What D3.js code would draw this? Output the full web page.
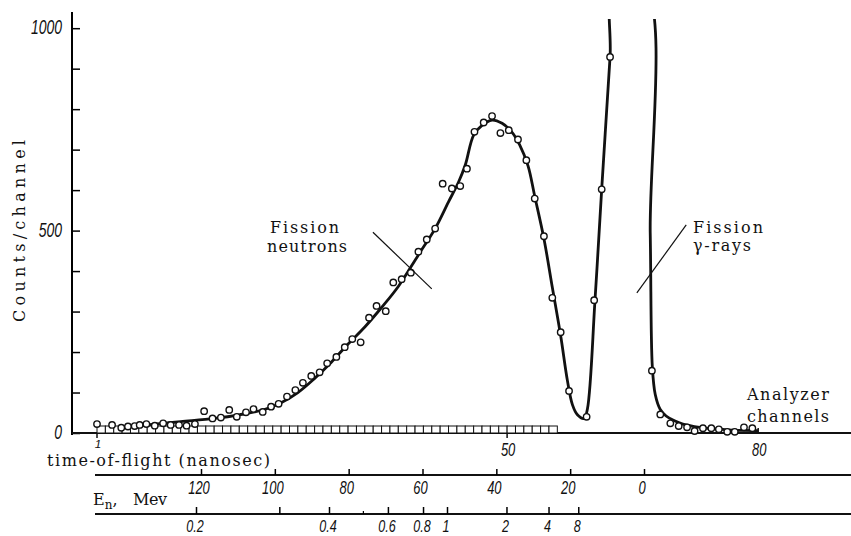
<!DOCTYPE html>
<html>
<head>
<meta charset="utf-8">
<script src="https://cdn.jsdelivr.net/npm/d3@7"></script>
<style>
  body { margin: 0; background: #fff; }
  svg { display: block; }
  .lbl { font-family: "DejaVu Serif", "Liberation Serif", serif; font-size: 16px; fill: #111; }
  .num { font-family: "Liberation Sans", Arial, sans-serif; font-style: italic; fill: #111; }
</style>
</head>
<body>
<svg width="851" height="536"></svg>
<script>
// measured points: analyzer channel vs counts/channel
var pointChannels = [1.0, 2.8, 3.9, 4.7, 5.5, 6.1, 6.9, 7.9, 8.9, 9.8,
  10.8, 11.7, 12.7, 13.8, 14.8, 15.8, 16.8, 17.7, 18.8, 19.7,
  20.8, 21.8, 22.7, 23.7, 24.7, 25.6, 26.6, 27.6, 28.5, 29.6,
  30.6, 31.5, 32.5, 33.5, 34.4, 35.5, 36.4, 37.4, 38.5, 39.4,
  40.4, 41.4, 42.3, 43.4, 44.4, 45.2, 46.1, 47.2, 48.2, 49.2,
  50.2, 51.3, 52.3, 53.3, 54.4, 55.4, 56.4, 57.4, 59.5, 60.4,
  61.3, 62.3, 67.3, 68.3, 69.5, 70.5, 71.5, 72.4, 73.4, 74.4,
  75.3, 76.3, 77.2, 78.3, 79.3];
var pointCounts = [22, 20, 13, 16, 17, 20, 22, 18, 24, 20,
  20, 18, 22, 54, 36, 38, 57, 40, 51, 59,
  52, 65, 72, 90, 106, 124, 141, 150, 172, 188,
  212, 232, 224, 285, 314, 301, 372, 380, 396, 448,
  478, 505, 616, 604, 610, 653, 744, 767, 783, 741,
  748, 725, 674, 579, 486, 334, 249, 104, 40, 328,
  602, 929, 154, 46, 24, 17, 14, 5, 12, 12,
  9, 3, 3, 14, 12];

// hand drawn fit through the points
var fitChannels = [3.7, 7, 11, 15, 18, 21, 23, 25, 27, 29, 31, 33, 35, 37, 39.4, 41.4, 43, 44.2,
  45, 46, 47, 48.2, 49.4, 50.5, 51.5, 52.5, 53.3, 54.4, 55.4, 56.4, 57.2, 57.8, 58.4, 59.2, 59.6,
  60.5, 61.3, 62.3, 62.8, 66.5, 67.1, 67.35, 67.7, 68.3, 69, 70, 71, 73, 75, 77, 80];
var fitCounts = [14, 20, 28, 36, 45, 58, 75, 100, 135, 175, 220, 262, 310, 362, 440, 505, 571, 620,
  662, 736, 760, 773, 765, 745, 712, 660, 585, 480, 360, 240, 130, 70, 45, 36, 60,
  328, 602, 929, 1100, 1100, 493, 164, 95, 58, 42, 30, 22, 14, 10, 7, 6];

var countTicks = [0, 100, 200, 300, 400, 500, 600, 700, 800, 900, 1000];
var countLabels = [0, 500, 1000];
var channelTicks = [1, 50, 80];
var boxFrom = 1, boxTo = 56;   // channels covered by the row of boxes
var tofTicks = [120, 100, 80, 60, 40, 20, 0];
var energyTicks = [0.2, 0.4, 0.6, 0.8, 1, 2, 4, 8];
var energyMinor = [0.3, 0.5];

// pointer lines, in channel/count units
var neutronPointer = [[33.97, 496], [41.0, 356]];
var gammaPointer = [[71.4, 514], [65.5, 346]];

var svg = d3.select('svg');
var W = 851;

var x = d3.scaleLinear().domain([1, 80]).range([97, 758.2]);
var y = d3.scaleLinear().domain([0, 1040]).range([433, 12]);
var tof = d3.scaleLinear().domain([0, 120]).range([644, 201]);
var energy = d3.scalePow().exponent(-0.5).domain([1, 0.2]).range([447, 196]);

var tofY = 475, enY = 514;

// y axis
svg.append('g')
  .attr('transform', 'translate(72,0)')
  .call(d3.axisRight(y).tickValues(countTicks).tickSize(8).tickSizeOuter(0).tickFormat(''))
  .call(function(g) {
    g.select('.domain').attr('stroke-width', 2).attr('d', 'M0,' + y.range()[1] + 'V' + (y(0) + 2));
    g.selectAll('.tick line').attr('stroke-width', 1.5);
  });

svg.selectAll('.ylab')
  .data(countLabels)
  .enter()
  .append('text')
  .attr('class', 'num ylab')
  .attr('text-anchor', 'end')
  .attr('font-size', 20)
  .attr('transform', function(d) {
    return 'translate(62,' + (y(d) + 6) + ') scale(0.7,1)';
  })
  .text(function(d) { return d; });

svg.append('text')
  .attr('class', 'lbl')
  .attr('font-size', 17)
  .attr('text-anchor', 'middle')
  .attr('transform', 'translate(25,231) rotate(-90)')
  .attr('textLength', 182)
  .attr('lengthAdjust', 'spacing')
  .text('Counts/channel');

// main x axis line (channels)
svg.append('line')
  .attr('x1', 72).attr('x2', W)
  .attr('y1', y(0)).attr('y2', y(0))
  .attr('stroke', '#111').attr('stroke-width', 2);

svg.selectAll('.ctick')
  .data(channelTicks)
  .enter()
  .append('line')
  .attr('class', 'ctick')
  .attr('x1', function(d) { return x(d); })
  .attr('x2', function(d) { return x(d); })
  .attr('y1', y(0))
  .attr('y2', function(d) { return d === 80 ? y(0) - 5 : y(0) + 5; })
  .attr('stroke', '#111').attr('stroke-width', 1.5);

svg.selectAll('.clab')
  .data(channelTicks)
  .enter()
  .append('text')
  .attr('class', 'num clab')
  .attr('text-anchor', 'middle')
  .attr('font-size', 18)
  .attr('transform', function(d) {
    return 'translate(' + (x(d) + 1) + ',' + (d === 1 ? 448 : 456) + ') scale(' + (d === 1 ? '0.65,0.65' : '0.72,1') + ')';
  })
  .text(function(d) { return d; });

// row of channel boxes
svg.selectAll('.box')
  .data(d3.range(boxFrom, boxTo))
  .enter()
  .append('rect')
  .attr('class', 'box')
  .attr('x', function(d) { return x(d); })
  .attr('width', x(2) - x(1))
  .attr('y', y(0) - 7)
  .attr('height', 7)
  .attr('fill', '#fff')
  .attr('stroke', '#111')
  .attr('stroke-width', 1);

// fit curve, clipped at the top of the plot
svg.append('clipPath').attr('id', 'clip')
  .append('rect').attr('x', 72).attr('y', 19).attr('width', W - 72).attr('height', 420);

var fit = fitChannels.map(function(c, i) { return [c, fitCounts[i]]; });
var line = d3.line()
  .x(function(d) { return x(d[0]); })
  .y(function(d) { return y(d[1]); })
  .curve(d3.curveCatmullRom.alpha(0.5));

svg.append('path')
  .datum(fit)
  .attr('clip-path', 'url(#clip)')
  .attr('d', line)
  .attr('fill', 'none')
  .attr('stroke', '#111')
  .attr('stroke-width', 2.8)
  .attr('stroke-linejoin', 'round');

var pts = pointChannels.map(function(c, i) { return [c, pointCounts[i]]; });
svg.selectAll('.pt')
  .data(pts)
  .enter()
  .append('circle')
  .attr('class', 'pt')
  .attr('cx', function(d) { return x(d[0]); })
  .attr('cy', function(d) { return y(d[1]); })
  .attr('r', 3.2)
  .attr('fill', '#fff')
  .attr('stroke', '#111')
  .attr('stroke-width', 1.4);

// pointers
var plain = d3.line()
  .x(function(d) { return x(d[0]); })
  .y(function(d) { return y(d[1]); });
[neutronPointer, gammaPointer].forEach(function(p) {
  svg.append('path')
    .attr('d', plain(p))
    .attr('stroke', '#111')
    .attr('stroke-width', 1.2);
});

function label(txt, px, py, len) {
  svg.append('text')
    .attr('class', 'lbl')
    .attr('x', px).attr('y', py)
    .attr('textLength', len)
    .attr('lengthAdjust', 'spacing')
    .text(txt);
}
label('Fission', 270, 233, 69);
label('neutrons', 267, 252, 80);
label('Fission', 693, 233, 70);
label('\u03b3-rays', 693, 251, 58);
label('Analyzer', 747, 400, 82);
label('channels', 747, 422, 82);
label('time-of-flight (nanosec)', 47, 466, 223);

// time-of-flight axis
svg.append('line')
  .attr('x1', 95).attr('x2', W)
  .attr('y1', tofY).attr('y2', tofY)
  .attr('stroke', '#111').attr('stroke-width', 1.8);
svg.append('g')
  .attr('transform', 'translate(0,' + tofY + ')')
  .call(d3.axisTop(tof).tickValues(tofTicks).tickSize(6).tickSizeOuter(0).tickFormat(''))
  .call(function(g) {
    g.select('.domain').remove();
    g.selectAll('.tick line').attr('stroke-width', 1.5);
  });
svg.selectAll('.tlab')
  .data(tofTicks)
  .enter()
  .append('text')
  .attr('class', 'num tlab')
  .attr('text-anchor', 'middle')
  .attr('font-size', 18)
  .attr('transform', function(d) {
    return 'translate(' + (tof(d) - 2) + ',494) scale(0.72,1)';
  })
  .text(function(d) { return d; });

// energy axis
svg.append('line')
  .attr('x1', 95).attr('x2', W)
  .attr('y1', enY).attr('y2', enY)
  .attr('stroke', '#111').attr('stroke-width', 1.8);
svg.append('g')
  .attr('transform', 'translate(0,' + enY + ')')
  .call(d3.axisTop(energy).tickValues(energyTicks.concat([0.3])).tickSize(7).tickSizeOuter(0).tickFormat(''))
  .call(function(g) {
    g.select('.domain').remove();
    g.selectAll('.tick line').attr('stroke-width', 1.5);
  });
svg.append('g')
  .attr('transform', 'translate(0,' + enY + ')')
  .call(d3.axisTop(energy).tickValues(energyMinor.slice(1)).tickSize(3).tickSizeOuter(0).tickFormat(''))
  .call(function(g) {
    g.select('.domain').remove();
    g.selectAll('.tick line').attr('stroke-width', 1.2);
  });
svg.selectAll('.elab')
  .data(energyTicks)
  .enter()
  .append('text')
  .attr('class', 'num elab')
  .attr('text-anchor', 'middle')
  .attr('font-size', 17)
  .attr('transform', function(d) {
    return 'translate(' + (energy(d) - 1) + ',532) scale(0.74,1)';
  })
  .text(function(d) { return d < 1 ? d.toFixed(1) : d; });

// E_n, Mev
var en = svg.append('text').attr('class', 'lbl').attr('font-size', 17).attr('x', 93).attr('y', 505);
en.append('tspan').text('E');
en.append('tspan').attr('font-size', 12).attr('dy', 4).text('n');
en.append('tspan').attr('dy', -4).text(',');
svg.append('text').attr('class', 'lbl').attr('font-size', 17).attr('x', 133).attr('y', 505)
  .attr('textLength', 34).attr('lengthAdjust', 'spacing').text('Mev');
</script>
</body>
</html>
